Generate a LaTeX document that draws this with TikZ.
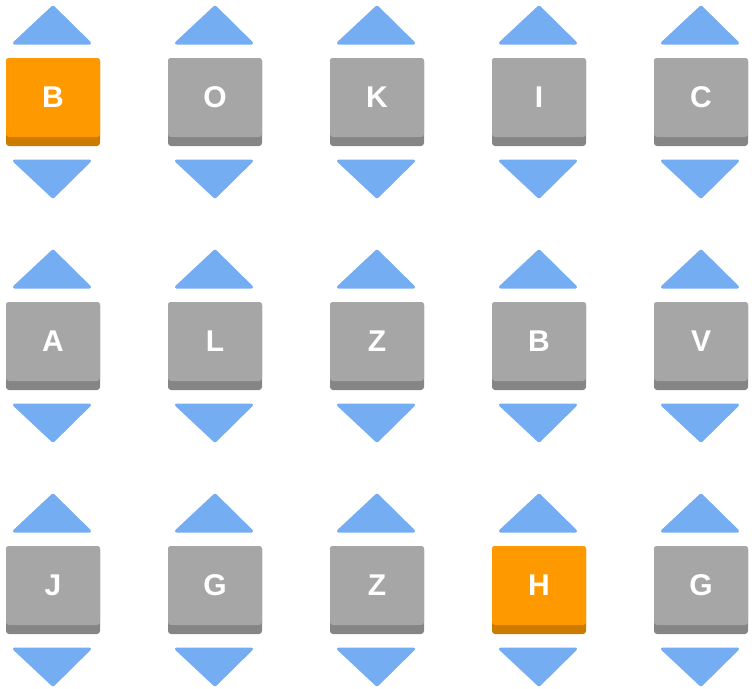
\documentclass[tikz,border=0pt]{standalone}
\usepackage{fontspec}
\setmainfont{Liberation Sans}
\definecolor{tri}{HTML}{75ADF2}
\definecolor{gy}{HTML}{A6A6A6}
\definecolor{gyd}{HTML}{858585}
\definecolor{og}{HTML}{FF9900}
\definecolor{ogd}{HTML}{CC7A00}
\begin{document}
\begin{tikzpicture}[x=1pt,y=-1pt]
\useasboundingbox (0,0) rectangle (752,688);
\tikzset{tr/.style={fill=tri,draw=tri,line width=3pt,line join=round},
lab/.style={text=white,font=\bfseries\fontsize{30}{30}\selectfont}}
\newcommand{\tile}[5]{% name, cx, top, letter, color
 \begin{scope}[shift={(#2,#3)}]
 \fill[#5d,rounded corners=3pt] (-46,0) rectangle (48,88);
 \fill[#5,rounded corners=3pt] (-46,0) rectangle (48,79);
 \node[lab] (#1) at (1,39) {#4};
 \draw[tr] (-37.5,-15) -- (1,-51) -- (37.5,-15) -- cycle;
 \draw[tr] (-37.5,103) -- (1,139) -- (37.5,103) -- cycle;
 \end{scope}}
\tile{a1}{52}{58}{B}{og}
\tile{a2}{214}{58}{O}{gy}
\tile{a3}{376}{58}{K}{gy}
\tile{a4}{538}{58}{I}{gy}
\tile{a5}{700}{58}{C}{gy}
\tile{b1}{52}{302}{A}{gy}
\tile{b2}{214}{302}{L}{gy}
\tile{b3}{376}{302}{Z}{gy}
\tile{b4}{538}{302}{B}{gy}
\tile{b5}{700}{302}{V}{gy}
\tile{c1}{52}{546}{J}{gy}
\tile{c2}{214}{546}{G}{gy}
\tile{c3}{376}{546}{Z}{gy}
\tile{c4}{538}{546}{H}{og}
\tile{c5}{700}{546}{G}{gy}
\end{tikzpicture}
\end{document}
